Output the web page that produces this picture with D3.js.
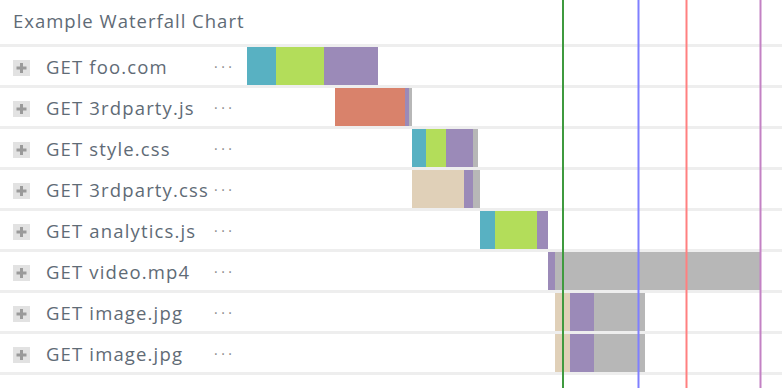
<!DOCTYPE html>
<html>
<head>
<meta charset="utf-8">
<script src="https://cdn.jsdelivr.net/npm/d3@7"></script>
<style>
  body { margin: 0; background: #fff; }
  svg { display: block; }
</style>
</head>
<body>
<div class="waterfall"></div>
<script>

// request labels
var requests = ["GET foo.com", "GET 3rdparty.js", "GET style.css", "GET 3rdparty.css",
                "GET analytics.js", "GET video.mp4", "GET image.jpg", "GET image.jpg"];

// start time of each request (ms)
var starts = [0, 176, 330, 330, 466, 602, 616, 616];

// phase durations (ms) for each request
var blocked = [0, 0, 0, 104, 0, 0, 30, 30];
var dns     = [58, 0, 28, 0, 30, 0, 0, 0];
var connect = [96, 0, 40, 0, 84, 0, 0, 0];
var ssl     = [0, 140, 0, 0, 0, 0, 0, 0];
var wait    = [108, 8, 54, 18, 22, 14, 48, 48];
var receive = [0, 6, 10, 14, 0, 410, 102, 102];

var phases = ["blocked", "dns", "connect", "ssl", "wait", "receive"];
var phaseValues = [blocked, dns, connect, ssl, wait, receive];
var phaseColors = ["#e0d0b8", "#58b1c2", "#b3dd5a", "#d9826b", "#9b8ab8", "#b7b7b7"];

// page events (ms)
var eventNames = ["DOMContentLoaded", "onload", "render", "done"];
var eventTimes = [632, 783, 879, 1027];
var eventColors = ["#3f9a3f", "#8080ff", "#ff8080", "#c381c4"];

var width = 782, height = 388;
var rowTop = 44, rowH = 41, sepH = 3;
var font = "'Open Sans', sans-serif";

var svg = d3.select(".waterfall").append("svg")
    .attr("width", width)
    .attr("height", height);

var x = d3.scaleLinear().domain([0, 1070]).range([247, 782]);

var y = d3.scaleBand()
    .domain(d3.range(requests.length))
    .range([rowTop, rowTop + rowH * requests.length]);

// title
svg.append("text")
    .text("Example Waterfall Chart")
    .attr("x", 13)
    .attr("y", 28)
    .attr("font-family", font)
    .attr("font-size", 18.5)
    .attr("letter-spacing", 1.0)
    .style("fill", "#5f6b76");

// row separators
svg.append("g").selectAll("rect")
    .data(d3.range(requests.length + 1))
    .enter().append("rect")
    .attr("x", 0)
    .attr("width", width)
    .attr("y", function(d) { return rowTop + d * rowH; })
    .attr("height", sepH)
    .style("fill", "#eeeeee");

// build stacked segments
var segs = [];
requests.forEach(function(r, i) {
  var t = starts[i];
  phases.forEach(function(p, j) {
    var v = phaseValues[j][i];
    if (v > 0) segs.push({row: i, t0: t, t1: t + v, color: phaseColors[j]});
    t += v;
  });
});

svg.append("g").selectAll("rect")
    .data(segs)
    .enter().append("rect")
    .attr("x", function(d) { return x(d.t0); })
    .attr("width", function(d) { return x(d.t1) - x(d.t0); })
    .attr("y", function(d) { return y(d.row) + sepH; })
    .attr("height", rowH - sepH)
    .style("fill", function(d) { return d.color; });

// labels
var rows = svg.append("g").selectAll("g")
    .data(requests)
    .enter().append("g")
    .attr("transform", function(d, i) { return "translate(0," + (y(i) + sepH + (rowH - sepH) / 2) + ")"; });

// expand icon
rows.append("rect")
    .attr("x", 13).attr("y", -6)
    .attr("width", 17).attr("height", 16)
    .style("fill", "#e2e2e2");
rows.append("rect")
    .attr("x", 16.5).attr("y", 0.5)
    .attr("width", 10).attr("height", 3)
    .style("fill", "#9a9a9a");
rows.append("rect")
    .attr("x", 20).attr("y", -3)
    .attr("width", 3).attr("height", 10)
    .style("fill", "#9a9a9a");

rows.append("text")
    .text(function(d) { return d; })
    .attr("x", 46)
    .attr("y", 8)
    .attr("font-family", font)
    .attr("font-size", 18.5)
    .attr("letter-spacing", 1.15)
    .style("fill", "#5f6b76");

rows.append("text")
    .text("···")
    .attr("x", 214)
    .attr("y", 6)
    .attr("font-family", font)
    .attr("font-size", 14)
    .attr("letter-spacing", 3.5)
    .style("fill", "#8a8a8a");

// event lines
svg.append("g").selectAll("line")
    .data(eventTimes)
    .enter().append("line")
    .attr("x1", function(d) { return x(d); })
    .attr("x2", function(d) { return x(d); })
    .attr("y1", 0)
    .attr("y2", height)
    .style("stroke", function(d, i) { return eventColors[i]; })
    .style("stroke-width", 2);

</script>
</body>
</html>
